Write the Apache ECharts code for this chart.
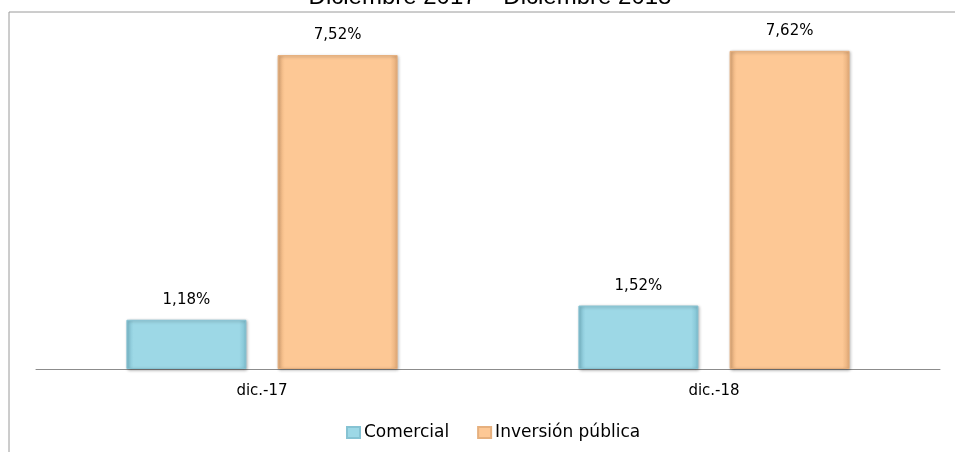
<!DOCTYPE html>
<html>
<head>
<meta charset="utf-8">
<script src="https://cdn.jsdelivr.net/npm/echarts@6/dist/echarts.min.js"></script>
<style>
  html, body { margin: 0; padding: 0; background: #ffffff; }
  #chart { width: 955px; height: 452px; }
</style>
</head>
<body>
<div id="chart"></div>
<script>
// Periods and rates (percent)
const categories = ['dic.-17', 'dic.-18'];
const comercial = [1.18, 1.52];
const inversionPublica = [7.52, 7.62];
const seriesNames = ['Comercial', 'Inversión pública'];

const labelFont = '"DejaVu Sans", "Noto Sans", sans-serif';

// Horizontal gradient giving the bars a bevelled edge
function bevel(mid, dark) {
  return {
    type: 'linear', x: 0, y: 0, x2: 1, y2: 0,
    colorStops: [
      { offset: 0, color: dark },
      { offset: 0.06, color: mid },
      { offset: 0.94, color: mid },
      { offset: 1, color: dark }
    ]
  };
}

function pctLabel(v) {
  return v.toFixed(2).replace('.', ',') + '%';
}

function valueLabel() {
  return {
    show: true,
    position: 'top',
    distance: 12,
    formatter: p => pctLabel(p.value),
    fontFamily: labelFont,
    fontSize: 15,
    color: '#000'
  };
}

const chart = echarts.init(document.getElementById('chart'));
chart.setOption({
  backgroundColor: '#ffffff',
  animation: false,
  graphic: [
    {
      type: 'polyline',
      shape: { points: [[9, 452], [9, 12], [955, 12]] },
      style: { stroke: '#9a9a9a', lineWidth: 1, fill: null }
    },
    {
      type: 'text',
      x: 490,
      y: -15,
      style: {
        text: 'Diciembre 2017 – Diciembre 2018',
        font: '24px "Liberation Sans", Arial, sans-serif',
        fill: '#000000',
        align: 'center'
      }
    }
  ],
  legend: {
    bottom: 6,
    left: 341,
    icon: 'rect',
    itemWidth: 13,
    itemHeight: 11,
    itemGap: 28,
    textStyle: { fontFamily: labelFont, fontSize: 17, color: '#000', padding: [0, 0, 0, -1] },
    data: seriesNames
  },
  grid: { left: 36, right: 15, top: 35, bottom: 83 },
  xAxis: {
    type: 'category',
    data: categories,
    axisTick: { show: false },
    axisLine: { lineStyle: { color: '#8c8c8c', width: 1 } },
    axisLabel: { fontFamily: labelFont, fontSize: 15, color: '#000', margin: 15 }
  },
  yAxis: {
    type: 'value',
    min: 0,
    max: 8,
    show: false,
    splitLine: { show: false }
  },
  series: [
    {
      name: seriesNames[0],
      type: 'bar',
      data: comercial,
      barWidth: 120,
      barGap: '26%',
      itemStyle: {
        color: bevel('#9dd8e6', '#7fc0d1'),
        borderColor: '#86c3d3',
        borderWidth: 1,
        shadowColor: 'rgba(0,0,0,0.3)',
        shadowBlur: 3,
        shadowOffsetX: 1,
        shadowOffsetY: 1
      },
      label: valueLabel()
    },
    {
      name: seriesNames[1],
      type: 'bar',
      data: inversionPublica,
      barWidth: 120,
      itemStyle: {
        color: bevel('#fdc895', '#e3ab78'),
        borderColor: '#e6b07e',
        borderWidth: 1,
        shadowColor: 'rgba(0,0,0,0.3)',
        shadowBlur: 3,
        shadowOffsetX: 1,
        shadowOffsetY: 1
      },
      label: valueLabel()
    }
  ]
});
</script>
</body>
</html>
